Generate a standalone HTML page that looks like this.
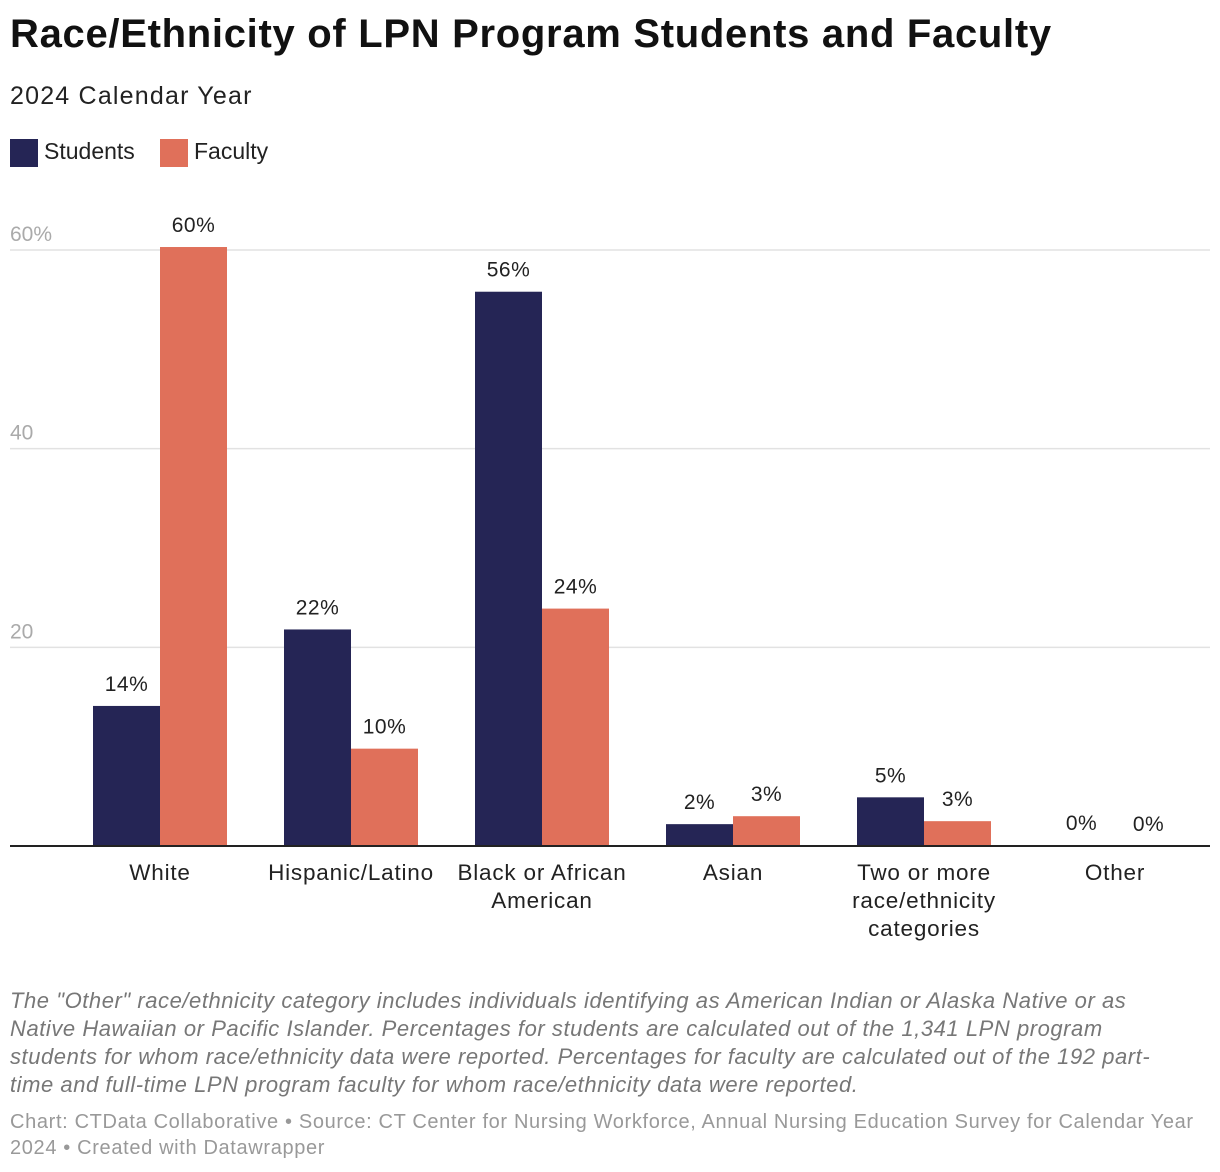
<!DOCTYPE html>
<html><head><meta charset="utf-8"><style>
body{margin:0;width:1220px;height:1172px;background:#fff;font-family:"Liberation Sans",sans-serif;position:relative;overflow:hidden}
.t{position:absolute;white-space:nowrap}
</style></head><body>
<div class="t" style="left:10px;top:12px;font-size:40px;font-weight:bold;color:#111;letter-spacing:0.7px">Race/Ethnicity of LPN Program Students and Faculty</div>
<div class="t" style="left:10px;top:82px;font-size:25px;color:#222;letter-spacing:1.2px">2024 Calendar Year</div>
<div>
<div class="t" style="left:10px;top:138px;font-size:23px;color:#222"><span style="display:inline-block;width:28px;height:28px;background:#252555;vertical-align:middle;margin-right:6px"></span>Students</div>
<div class="t" style="left:160px;top:138px;font-size:23px;color:#222"><span style="display:inline-block;width:28px;height:28px;background:#e0705a;vertical-align:middle;margin-right:6px"></span>Faculty</div>
</div>
<svg id="chart" width="1220" height="960" style="position:absolute;left:0;top:0" font-family="Liberation Sans, sans-serif"></svg>
<div class="t" style="left:10px;top:987px;font-size:22px;line-height:28px;font-style:italic;color:#777;letter-spacing:0.55px">The "Other" race/ethnicity category includes individuals identifying as American Indian or Alaska Native or as<br>Native Hawaiian or Pacific Islander. Percentages for students are calculated out of the 1,341 LPN program<br>students for whom race/ethnicity data were reported. Percentages for faculty are calculated out of the 192 part-<br>time and full-time LPN program faculty for whom race/ethnicity data were reported.</div>
<div class="t" style="left:10px;top:1109px;font-size:20px;line-height:26px;color:#999;letter-spacing:0.65px">Chart: CTData Collaborative • Source: CT Center for Nursing Workforce, Annual Nursing Education Survey for Calendar Year<br>2024 • Created with Datawrapper</div>
<script>
const categories=[["White"],["Hispanic/Latino"],["Black or African","American"],["Asian"],["Two or more","race/ethnicity","categories"],["Other"]];
const students=[14.1,21.8,55.8,2.2,4.9,0.1];
const faculty=[60.3,9.8,23.9,3.0,2.5,0];
const studentLabels=["14%","22%","56%","2%","5%","0%"];
const facultyLabels=["60%","10%","24%","3%","3%","0%"];
const ticks=[20,40,60];
const ns="http://www.w3.org/2000/svg";
const svg=document.getElementById('chart');
const y0=846,pxPer=(846-250)/60;
const y=v=>y0-v*pxPer;
const cx=i=>160+i*191;
const bw=67;
function mk(t,a,txt){const e=document.createElementNS(ns,t);for(const k in a)e.setAttribute(k,a[k]);if(txt!==undefined)e.textContent=txt;svg.appendChild(e);return e;}
ticks.forEach(t=>{
 const l=mk('line',{x1:10,x2:1210,y1:y(t),y2:y(t),stroke:'#e2e2e2','stroke-width':1.5});
 
 
 const tx=mk('text',{x:10,y:y(t)-9,'font-size':21,fill:'#aaa'},t===60?t+'%':String(t));
 
 
});
categories.forEach((c,i)=>{
 const s=mk('rect',{x:cx(i)-bw,y:y(students[i]),width:bw,height:y0-y(students[i]),fill:'#252555'});
 
 
 const f=mk('rect',{x:cx(i),y:y(faculty[i]),width:bw,height:y0-y(faculty[i]),fill:'#e0705a'});
 
 
 const sl=mk('text',{x:cx(i)-bw/2,y:y(students[i])-15,'font-size':21,fill:'#222','text-anchor':'middle','letter-spacing':0.5},studentLabels[i]);
 
 
 const fl=mk('text',{x:cx(i)+bw/2,y:y(faculty[i])-15,'font-size':21,fill:'#222','text-anchor':'middle','letter-spacing':0.5},facultyLabels[i]);
 
 
 c.forEach((line,j)=>{
  const cl=mk('text',{x:cx(i),y:880+j*28,'font-size':22.5,fill:'#222','text-anchor':'middle','letter-spacing':0.8},line);
  
  
 });
});
const base=mk('line',{x1:10,x2:1210,y1:y0,y2:y0,stroke:'#222','stroke-width':2});


</script>
</body></html>
